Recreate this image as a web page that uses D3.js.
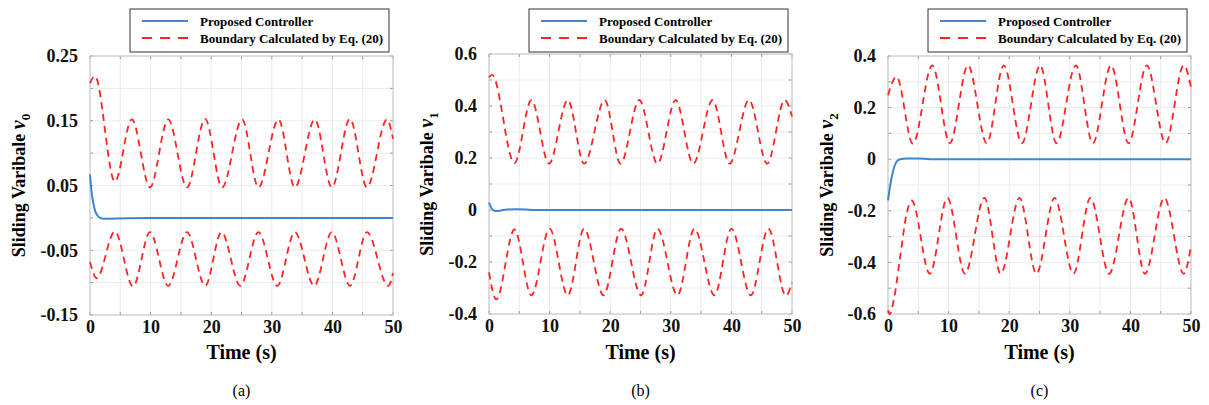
<!DOCTYPE html>
<html lang="en">
<head>
    <meta charset="UTF-8">
    <title>Sliding variables</title>
    <script src="https://d3js.org/d3.v7.min.js"></script>
    <style>
        body {
            margin: 0;
            padding: 0;
            background-color: white;
        }

        svg text {
            font-family: 'Liberation Serif', 'Times New Roman', serif;
        }
    </style>
</head>
<body>
    <div id="chart"></div>
    <script>
        // legend text
        var seriesNames = ["Proposed Controller", "Boundary Calculated by Eq. (20)"];
        var panelTags = ["(a)", "(b)", "(c)"];
        var subscripts = ["0", "1", "2"];

        // y tick labels per panel
        var yLabelsA = [-0.15, -0.05, 0.05, 0.15, 0.25];
        var yLabelsB = [-0.4, -0.2, 0, 0.2, 0.4, 0.6];
        var yLabelsC = [-0.6, -0.4, -0.2, 0, 0.2, 0.4];
        var yGridA = [-0.15, -0.1, -0.05, 0, 0.05, 0.1, 0.15, 0.2, 0.25];
        var yGridB = [-0.4, -0.3, -0.2, -0.1, 0, 0.1, 0.2, 0.3, 0.4, 0.5, 0.6];
        var yGridC = [-0.6, -0.5, -0.4, -0.3, -0.2, -0.1, 0, 0.1, 0.2, 0.3, 0.4];
        var xLabels = [0, 10, 20, 30, 40, 50];
        var xGrid = [0, 5, 10, 15, 20, 25, 30, 35, 40, 45, 50];

        // panel (a)
        var tA_ctrl = [0, 0.2, 0.5, 0.8, 1.2, 1.7, 2.3, 3.5, 6, 10, 50];
        var vA_ctrl = [0.067, 0.045, 0.025, 0.012, 0.004, 0.0, -0.0015, -0.0012, -0.0005, 0, 0];
        var tA_up = [0, 0.8, 4.1, 6.9, 9.9, 12.9, 16.0, 19.0, 21.8, 25.1, 27.8, 31.1, 33.8, 37.1, 39.9, 42.9, 45.7, 49.0, 50];
        var vA_up = [0.208, 0.219, 0.056, 0.152, 0.047, 0.152, 0.047, 0.153, 0.047, 0.152, 0.047, 0.152, 0.047, 0.152, 0.047, 0.153, 0.047, 0.152, 0.122];
        var tA_lo = [0, 1.1, 4.1, 7.1, 9.9, 12.9, 16.0, 19.0, 21.7, 24.8, 27.8, 30.9, 33.8, 37.0, 39.9, 42.9, 45.7, 49.2, 50];
        var vA_lo = [-0.068, -0.093, -0.021, -0.106, -0.022, -0.105, -0.022, -0.105, -0.022, -0.105, -0.022, -0.105, -0.022, -0.105, -0.022, -0.105, -0.022, -0.105, -0.085];

        // panel (b)
        var tB_ctrl = [0, 0.4, 1.0, 2, 3, 4.5, 6, 7.5, 50];
        var vB_ctrl = [0.028, 0.008, -0.004, -0.002, 0.002, 0.003, 0.002, 0, 0];
        var tB_up = [0, 0.5, 4.2, 7.0, 9.9, 13.0, 15.7, 19.1, 21.7, 24.8, 27.8, 30.8, 33.7, 36.9, 39.7, 42.9, 45.9, 48.8, 50];
        var vB_up = [0.51, 0.52, 0.18, 0.423, 0.178, 0.423, 0.178, 0.423, 0.178, 0.423, 0.178, 0.423, 0.178, 0.423, 0.178, 0.423, 0.178, 0.423, 0.36];
        var tB_lo = [0, 1.2, 4.2, 7.0, 10.0, 13.0, 15.7, 18.9, 21.8, 25.1, 27.8, 31.1, 33.9, 37.2, 40.0, 43.2, 46.1, 49.0, 50];
        var vB_lo = [-0.24, -0.344, -0.075, -0.328, -0.072, -0.328, -0.072, -0.328, -0.072, -0.328, -0.072, -0.328, -0.072, -0.328, -0.072, -0.328, -0.072, -0.33, -0.28];

        // panel (c)
        var tC_ctrl = [0, 0.3, 0.8, 1.4, 2.0, 3.0, 5.0, 7.0, 50];
        var vC_ctrl = [-0.16, -0.11, -0.05, -0.01, 0.0, 0.003, 0.003, 0.0, 0];
        var tC_up = [0, 1.4, 4.1, 7.3, 10.2, 13.2, 16.3, 19.1, 22.1, 25.1, 27.8, 31.0, 33.8, 36.8, 39.7, 42.7, 45.8, 48.8, 50];
        var vC_up = [0.248, 0.32, 0.06, 0.364, 0.062, 0.364, 0.062, 0.364, 0.062, 0.364, 0.062, 0.364, 0.062, 0.364, 0.062, 0.364, 0.062, 0.364, 0.28];
        var tC_lo = [0, 0.3, 1.0, 2.0, 3.0, 3.9, 6.9, 9.8, 12.7, 15.9, 18.6, 21.7, 24.5, 27.5, 30.6, 33.4, 36.5, 39.7, 42.4, 45.6, 48.8, 50];
        var vC_lo = [-0.585, -0.6, -0.54, -0.38, -0.22, -0.16, -0.444, -0.15, -0.444, -0.15, -0.444, -0.15, -0.444, -0.15, -0.444, -0.15, -0.444, -0.15, -0.444, -0.15, -0.444, -0.337];

        var blue = "#3d86d6";
        var red = "#ff2424";

        function zip(t, v) {
            return t.map(function (d, i) { return { t: d, v: v[i] }; });
        }

        var panels = [
            { left: 90, right: 393, top: 56, bottom: 315, dom: [-0.15, 0.25], dec: 2, labOff: 71,
              yLab: yLabelsA, yGrid: yGridA,
              ctrl: zip(tA_ctrl, vA_ctrl), up: zip(tA_up, vA_up), lo: zip(tA_lo, vA_lo) },
            { left: 489, right: 792, top: 54, bottom: 314, dom: [-0.4, 0.6], dec: 1, labOff: 62,
              yLab: yLabelsB, yGrid: yGridB,
              ctrl: zip(tB_ctrl, vB_ctrl), up: zip(tB_up, vB_up), lo: zip(tB_lo, vB_lo) },
            { left: 888, right: 1191, top: 56, bottom: 314, dom: [-0.6, 0.4], dec: 1, labOff: 61,
              yLab: yLabelsC, yGrid: yGridC,
              ctrl: zip(tC_ctrl, vC_ctrl), up: zip(tC_up, vC_up), lo: zip(tC_lo, vC_lo) }
        ];

        var svg = d3.select("#chart")
            .append("svg")
            .attr("width", 1209)
            .attr("height", 405);

        panels.forEach(function (p, i) {
            var x = d3.scaleLinear().domain([0, 50]).range([p.left, p.right]);
            var y = d3.scaleLinear().domain(p.dom).range([p.bottom, p.top]);
            var g = svg.append("g");

            // grid
            g.selectAll(".gx").data(xGrid).enter().append("line")
                .attr("x1", function (d) { return x(d); })
                .attr("x2", function (d) { return x(d); })
                .attr("y1", p.top).attr("y2", p.bottom)
                .attr("stroke", "#ebebeb").attr("stroke-width", 1);
            g.selectAll(".gy").data(p.yGrid).enter().append("line")
                .attr("y1", function (d) { return y(d); })
                .attr("y2", function (d) { return y(d); })
                .attr("x1", p.left).attr("x2", p.right)
                .attr("stroke", "#ebebeb").attr("stroke-width", 1);

            // box ticks on all sides
            xGrid.forEach(function (d) {
                g.append("line").attr("x1", x(d)).attr("x2", x(d))
                    .attr("y1", p.bottom).attr("y2", p.bottom - 3).attr("stroke", "#999");
                g.append("line").attr("x1", x(d)).attr("x2", x(d))
                    .attr("y1", p.top).attr("y2", p.top + 3).attr("stroke", "#999");
            });
            p.yGrid.forEach(function (d) {
                g.append("line").attr("y1", y(d)).attr("y2", y(d))
                    .attr("x1", p.left).attr("x2", p.left + 3).attr("stroke", "#999");
                g.append("line").attr("y1", y(d)).attr("y2", y(d))
                    .attr("x1", p.right).attr("x2", p.right - 3).attr("stroke", "#999");
            });

            g.append("rect")
                .attr("x", p.left).attr("y", p.top)
                .attr("width", p.right - p.left).attr("height", p.bottom - p.top)
                .attr("fill", "none").attr("stroke", "#c4c4c4").attr("stroke-width", 1);

            // axes labels
            var yAxis = g.append("g")
                .attr("transform", "translate(" + p.left + ",0)")
                .call(d3.axisLeft(y).tickValues(p.yLab).tickSize(0).tickPadding(12)
                    .tickFormat(function (d) { return d === 0 ? "0" : d.toFixed(p.dec); }));
            yAxis.select(".domain").remove();
            yAxis.selectAll("text")
                .style("font-family", "'Liberation Serif', serif")
                .style("font-size", "18px").style("font-weight", "bold").attr("fill", "#111");

            var xAxis = g.append("g")
                .attr("transform", "translate(0," + p.bottom + ")")
                .call(d3.axisBottom(x).tickValues(xLabels).tickSize(0).tickPadding(5)
                    .tickFormat(d3.format("d")));
            xAxis.select(".domain").remove();
            xAxis.selectAll("text")
                .style("font-family", "'Liberation Serif', serif")
                .style("font-size", "18px").style("font-weight", "bold").attr("fill", "#111");

            var cx = (p.left + p.right) / 2;
            g.append("text")
                .attr("x", cx).attr("y", 359)
                .attr("text-anchor", "middle")
                .style("font-size", "20px").style("font-weight", "bold")
                .text("Time (s)");

            g.append("text")
                .attr("x", cx).attr("y", 396)
                .attr("text-anchor", "middle")
                .style("font-size", "16px")
                .text(panelTags[i]);

            var yl = g.append("text")
                .attr("transform", "translate(" + (p.left - p.labOff) + "," + ((p.top + p.bottom) / 2) + ") rotate(-90)")
                .attr("text-anchor", "middle")
                .attr("dy", "0.35em")
                .style("font-size", "18px").style("font-weight", "bold");
            yl.append("tspan").text("Sliding Varibale ");
            yl.append("tspan").style("font-style", "italic").style("font-size", "20px").text("v");
            yl.append("tspan").attr("dy", 5).style("font-size", "13px").text(subscripts[i]);

            // curves
            var line = d3.line()
                .x(function (d) { return x(d.t); })
                .y(function (d) { return y(d.v); })
                .curve(d3.curveMonotoneX);

            [p.up, p.lo].forEach(function (s) {
                g.append("path").datum(s)
                    .attr("d", line)
                    .attr("fill", "none")
                    .attr("stroke", red)
                    .attr("stroke-width", 1.8)
                    .attr("stroke-dasharray", "7,5");
            });
            g.append("path").datum(p.ctrl)
                .attr("d", line)
                .attr("fill", "none")
                .attr("stroke", blue)
                .attr("stroke-width", 2);

            // legend
            var lx = p.left + 40, ly = 9;
            var lg = g.append("g");
            lg.append("rect")
                .attr("x", lx).attr("y", ly)
                .attr("width", 259).attr("height", 43)
                .attr("fill", "white").attr("stroke", "#333").attr("stroke-width", 1);
            lg.append("line")
                .attr("x1", lx + 12).attr("x2", lx + 58)
                .attr("y1", ly + 12).attr("y2", ly + 12)
                .attr("stroke", "#4a7fd4").attr("stroke-width", 2);
            lg.append("line")
                .attr("x1", lx + 12).attr("x2", lx + 58)
                .attr("y1", ly + 29).attr("y2", ly + 29)
                .attr("stroke", red).attr("stroke-width", 2)
                .attr("stroke-dasharray", "10,8");
            lg.selectAll(".lt").data(seriesNames).enter().append("text")
                .attr("x", lx + 70)
                .attr("y", function (d, k) { return ly + 17 + k * 17; })
                .style("font-size", "13px").style("font-weight", "bold")
                .text(function (d) { return d; });
        });
    </script>
</body>
</html>
